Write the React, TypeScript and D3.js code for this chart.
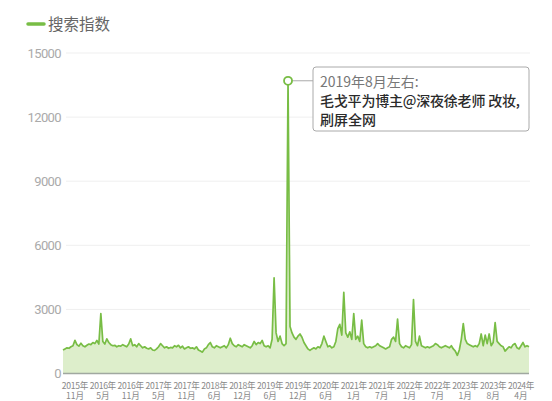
import React from "react";
import * as d3 from "d3";

const seriesName = "搜索指数";
const yTicks = [0, 3000, 6000, 9000, 12000, 15000];
const xYearLabels = ["2015年","2016年","2016年","2017年","2017年","2018年","2018年","2019年","2019年","2020年","2021年","2021年","2022年","2022年","2023年","2023年","2024年"];
const xMonthLabels = ["11月","5月","11月","5月","11月","6月","12月","6月","12月","6月","1月","7月","1月","7月","1月","8月","4月"];
const searchIndex = [
  1100,1150,1200,1180,1250,1300,1550,1350,1280,1420,
  1300,1250,1320,1380,1350,1450,1400,1550,1380,2800,
  1500,1380,1620,1450,1350,1300,1320,1250,1300,1280,
  1350,1300,1250,1380,1620,1300,1350,1250,1400,1300,
  1200,1250,1180,1150,1200,1100,1080,1150,1250,1400,
  1300,1200,1250,1180,1220,1200,1300,1250,1320,1200,
  1280,1150,1200,1250,1180,1200,1150,1250,1100,1050,
  1000,1150,1200,1350,1450,1250,1200,1300,1250,1200,
  1250,1300,1200,1350,1650,1400,1300,1250,1350,1300,
  1250,1350,1300,1250,1200,1300,1500,1350,1450,1400,
  1550,1300,1250,1300,1200,1600,4480,1900,1500,1750,
  1400,1300,1400,13700,2200,1900,1700,1600,1750,1850,
  1700,1450,1300,1150,1080,1150,1200,1150,1250,1200,
  1400,1750,1500,1250,1300,1200,1250,1500,2100,2300,
  1800,3800,1900,1700,1950,1600,2800,1600,1750,1500,
  2500,1400,1250,1200,1250,1200,1250,1300,1400,1300,
  1250,1200,1150,1200,1250,1600,1700,1500,2550,1400,
  1250,1200,1300,1250,1200,1350,3460,1500,1300,1750,
  1300,1250,1200,1250,1200,1250,1300,1400,1350,1250,
  1200,1250,1300,1250,1200,1300,1150,1050,850,1100,
  1600,2330,1600,1400,1350,1300,1250,1300,1250,1400,
  1850,1300,1800,1400,1850,1300,1450,2380,1500,1400,
  1300,1250,1050,1150,1250,1200,1350,1400,1200,1150,
  1300,1450,1250,1300,1250
];
const labelStart = 6;
const labelEvery = 14;
const noteLines = ["2019年8月左右:", "毛戈平为博主@深夜徐老师 改妆,", "刷屏全网"];

const W = 552, H = 401;
const left = 63, right = 529, top = 53, bottom = 373.5;
const green = "#78bd45";
const cjk = "'Noto Sans CJK SC', 'Noto Sans', sans-serif";

export default function App() {
  const n = searchIndex.length;
  const x = d3.scaleLinear().domain([0, n - 1]).range([left, right]);
  const y = d3.scaleLinear().domain([0, 15000]).range([bottom, top]);
  const line = d3.line<number>().x((_, i) => x(i)).y((d) => y(d));
  const area = d3.area<number>().x((_, i) => x(i)).y0(y(0)).y1((d) => y(d));
  const peakIdx = searchIndex.indexOf(d3.max(searchIndex) as number);
  const px = x(peakIdx), py = y(searchIndex[peakIdx]);
  const boxX = 313, boxY = 67, boxW = 216, boxH = 64;

  return (
    <svg width={W} height={H} style={{ position: "absolute", left: 0, top: 0, background: "#fff" }}>
      {/* legend */}
      <line x1={28} x2={44} y1={24} y2={24} stroke={green} strokeWidth={3.5} strokeLinecap="round" />
      <text x={48} y={30} fontSize={15.5} fill="#666" fontFamily={cjk}>{seriesName}</text>
      {/* grid + y labels */}
      {yTicks.map((t) => (
        <g key={t}>
          {t > 0 && <line x1={left + 3} x2={right + 1} y1={y(t)} y2={y(t)} stroke="#efefef" strokeWidth={1} />}
          <text x={61} y={y(t) + 4.5} textAnchor="end" fontSize={13} fill="#aaa" fontFamily="'Roboto', sans-serif" letterSpacing={-0.6}>{t}</text>
        </g>
      ))}
      {/* area + line */}
      <path d={area(searchIndex) || ""} fill="#ddeecb" />
      <path d={line(searchIndex) || ""} fill="none" stroke={green} strokeWidth={1.7} strokeLinejoin="round" />
      <line x1={left} x2={right} y1={bottom} y2={bottom} stroke="#a0a8a0" strokeWidth={1.5} />
      {/* x labels */}
      {xYearLabels.map((lab, i) => {
        const cx = x(labelStart + i * labelEvery);
        return (
          <g key={i} fontFamily={cjk} fontSize={8.6} fill="#888" textAnchor="middle">
            <text x={cx} y={388.5} letterSpacing={-0.3}>{lab}</text>
            <text x={cx} y={399}>{xMonthLabels[i]}</text>
          </g>
        );
      })}
      {/* annotation */}
      <line x1={px + 4} x2={boxX} y1={py} y2={py} stroke="#aaa" strokeWidth={1} />
      <circle cx={px} cy={py} r={4} fill="#fff" stroke={green} strokeWidth={1.8} />
      <rect x={boxX} y={boxY} width={boxW} height={boxH} rx={3} fill="#fff" stroke="#aaa" strokeWidth={1} />
      <text x={320} y={87} fontSize={14} fill="#777" fontFamily={cjk}>{noteLines[0]}</text>
      <text x={320} y={106} fontSize={14} fill="#2a2a2a" fontWeight={500} fontFamily={cjk} letterSpacing={-0.2}>{noteLines[1]}</text>
      <text x={320} y={125} fontSize={14} fill="#2a2a2a" fontWeight={500} fontFamily={cjk}>{noteLines[2]}</text>
    </svg>
  );
}
